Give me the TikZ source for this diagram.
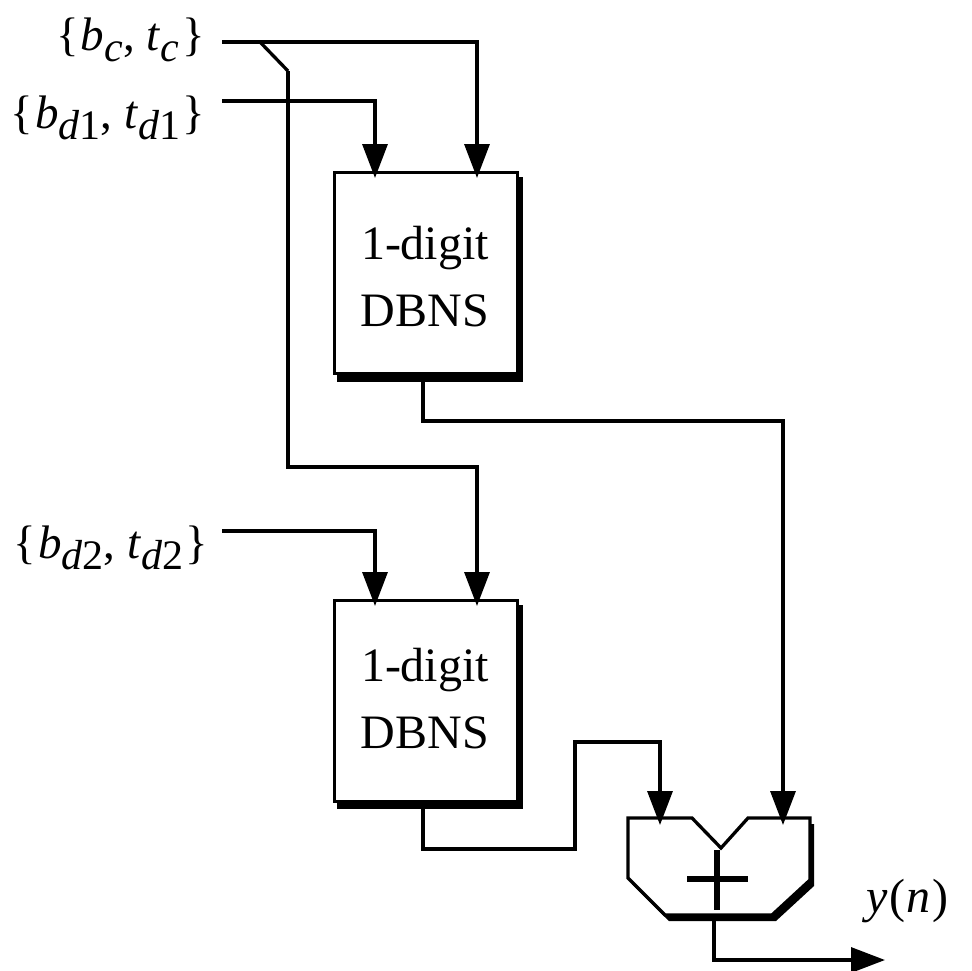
\documentclass[tikz,border=0pt]{standalone}
\usepackage{fontspec}
\setmainfont{Liberation Serif}
\usetikzlibrary{arrows.meta,calc}
% lowered, near full-size subscript
\newcommand\lowsub[1]{\raisebox{-11pt}{\fontsize{42}{42}\selectfont #1}}
\begin{document}
\begin{tikzpicture}[x=1pt,y=-1pt,
  wire/.style={line width=3.3pt,line join=miter},
  feed/.style={wire,-{Triangle[length=34pt,width=25pt]},shorten >=-7pt},
  blockbox/.style={draw,fill=white,line width=3.3pt,minimum width=183pt,
    minimum height=201pt,inner sep=0pt,anchor=north west},
  blocktext/.style={font=\fontsize{48}{48}\selectfont,anchor=base,inner sep=0pt},
  intext/.style={font=\fontsize{47}{47}\selectfont,anchor=base east,inner sep=0pt}]
\useasboundingbox (0,0) rectangle (972,970);

% ---- inputs ----
\node[intext] (bc) at (205,50)
  {\{\kern2pt\textit{b}\lowsub{\textit{c}}, \textit{t}\lowsub{\textit{c}}\kern3pt\}};
\node[intext] (bd1) at (205,128)
  {\{\kern2pt\textit{b}\lowsub{\textit{d}1}, \textit{t}\lowsub{\textit{d}1}\kern2pt\}};
\node[intext] (bd2) at (208,558)
  {\{\kern2pt\textit{b}\lowsub{\textit{d}2}, \textit{t}\lowsub{\textit{d}2}\kern2pt\}};

% ---- DBNS blocks with drop shadows ----
\fill (337,177) rectangle (523,382);
\node[blockbox] (box1) at (333,171) {};
\node[blocktext] (box1a) at (425,259) {1-digit};
\node[blocktext] (box1b) at (425,326) {DBNS};

\fill (337,605) rectangle (523,809);
\node[blockbox] (box2) at (333,599) {};
\node[blocktext] (box2a) at (425,681) {1-digit};
\node[blocktext] (box2b) at (425,748) {DBNS};

% ---- adder ----
\fill[shift={(4,6)}] (628,818) -- (692,818) -- (721,848) -- (748,818) -- (810,818)
  -- (810,880) -- (772,915) -- (665,915) -- (628,878) -- cycle;
\draw[wire,fill=white] (628,818) -- (692,818) -- (721,848) -- (748,818) -- (810,818)
  -- (810,880) -- (772,915) -- (665,915) -- (628,878) -- cycle;
\draw[line width=6pt] (717,850) -- (717,910) (687,879) -- (748,879);
\coordinate (addtop) at (720,818);
\coordinate (addout) at (714,915);

% ---- column / row helpers ----
\coordinate (cin)   at (222,42);
\coordinate (ctap)  at (260,42);
\coordinate (cbend) at (288,71);
\coordinate (d1in)  at (222,101);
\coordinate (d2in)  at (222,531);
\coordinate (colA)  at (375,0);
\coordinate (colB)  at (477,0);
\coordinate (colL)  at (660,0);
\coordinate (colR)  at (783,0);
\coordinate (yend)  at (885,960);

% ---- connectors ----
\draw[feed] (cin) -- (477,42) -- (box1.north -| colB);
\draw[wire] (ctap) -- (cbend);
\draw[feed] (cbend) -- (288,467) -- (477,467) -- (box2.north -| colB);
\draw[feed] (d1in) -- (375,101) -- (box1.north -| colA);
\draw[feed] (d2in) -- (375,531) -- (box2.north -| colA);
\draw[feed] (box1.south -| 423,0) -- (423,421) -- (783,421) -- (addtop -| colR);
\draw[feed] (box2.south -| 423,0) -- (423,849) -- (575,849) -- (575,742)
  -- (660,742) -- (addtop -| colL);
\draw[wire,-{Triangle[length=34pt,width=25pt]}] (addout) -- (714,960) -- (yend);

% ---- output label ----
\node[font=\fontsize{48}{48}\selectfont,anchor=base west,inner sep=0pt] (yn) at (866,912)
  {\textit{y}\kern2pt(\kern1pt\textit{n}\kern2pt)};
\end{tikzpicture}
\end{document}
